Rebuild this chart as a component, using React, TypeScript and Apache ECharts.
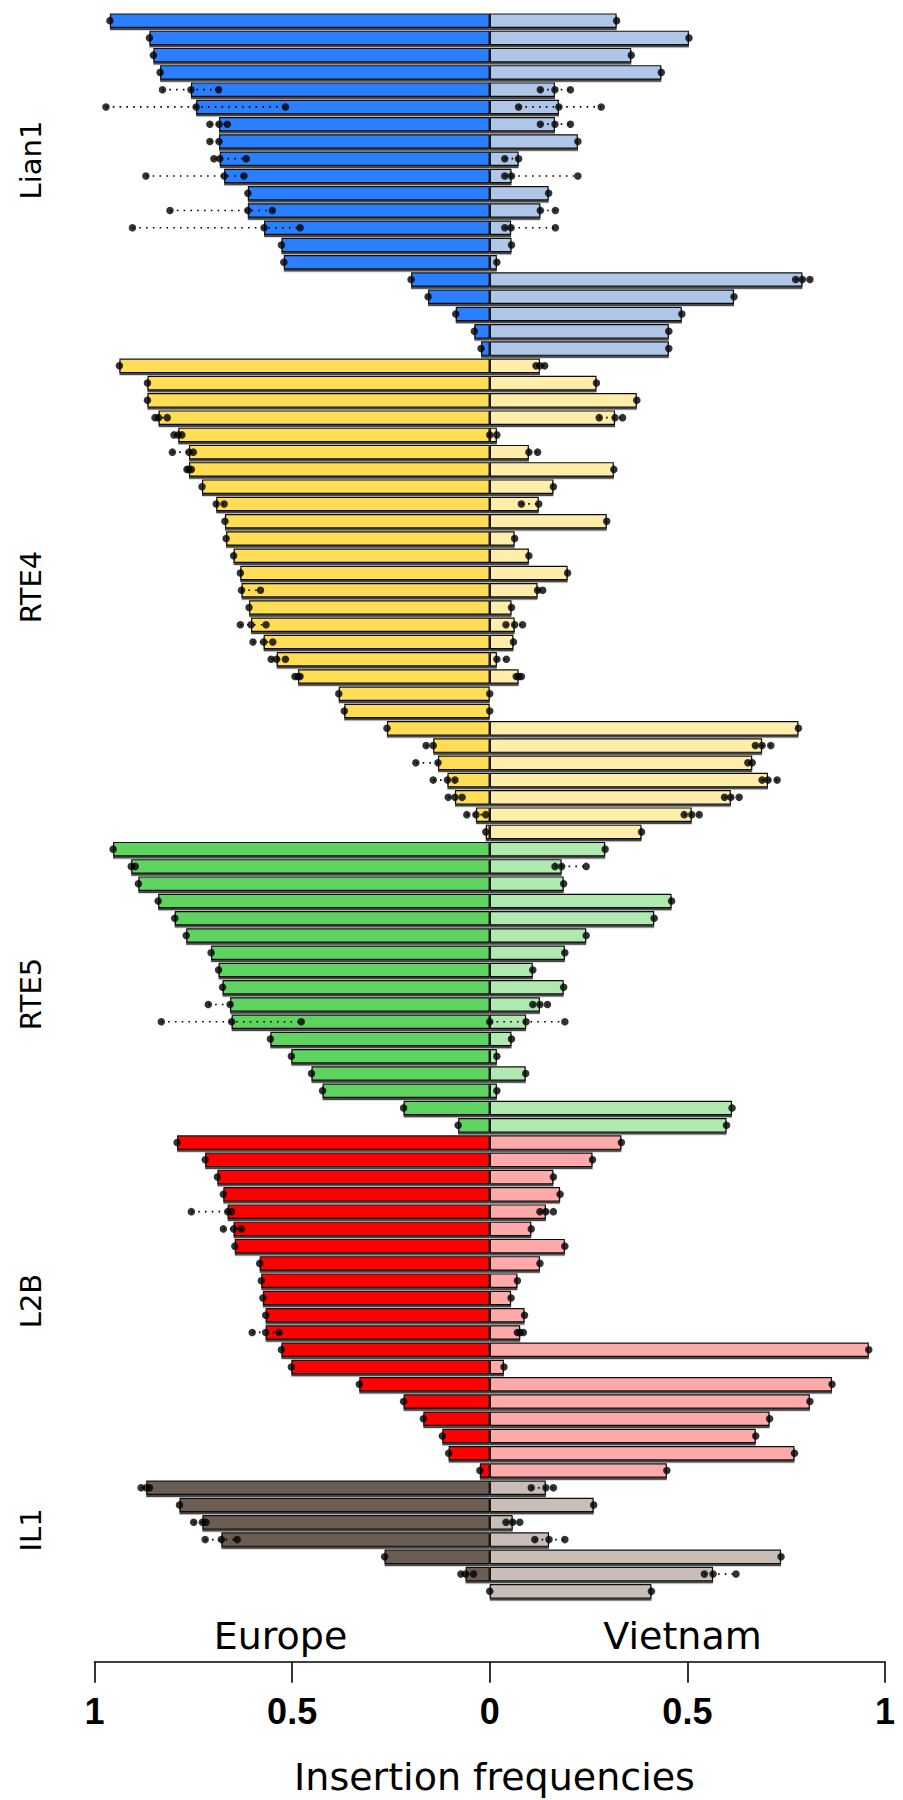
import React, { useEffect, useRef } from "react";
import * as echarts from "echarts";

// ---------------- DATA ----------------
const groupNames = ["Lian1", "RTE4", "RTE5", "L2B", "IL1"];
const europeColors = ["#2a7fff", "#ffdd55", "#5fd35f", "#ff0000", "#6c5d53"];
const vietnamColors = ["#afc6e9", "#ffeeaa", "#afe9af", "#ffaaaa", "#c8beb7"];
const tickValues = [-1, -0.5, 0, 0.5, 1];
const regionLabels = ["Europe", "Vietnam"];
const axisTitle = "Insertion frequencies";

const lian1Europe = [0.961, 0.861, 0.851, 0.834, 0.756, 0.743, 0.685, 0.685, 0.683, 0.672, 0.612, 0.612, 0.571, 0.527, 0.521, 0.199, 0.156, 0.086, 0.039, 0.022];
const lian1Vietnam = [0.321, 0.504, 0.358, 0.434, 0.165, 0.175, 0.165, 0.223, 0.073, 0.055, 0.149, 0.128, 0.054, 0.055, 0.018, 0.791, 0.618, 0.486, 0.453, 0.453];
const lian1EuropeReps: Record<number, number[]> = { 4: [0.828, 0.686], 5: [0.971, 0.517], 6: [0.708, 0.664], 7: [0.708], 8: [0.698, 0.616], 9: [0.87, 0.622], 11: [0.809, 0.55], 12: [0.904, 0.48] };
const lian1VietnamReps: Record<number, number[]> = { 4: [0.128, 0.204], 5: [0.073, 0.282], 6: [0.128, 0.204], 8: [0.038], 9: [0.038, 0.223], 11: [0.166], 12: [0.038, 0.166], 15: [0.774, 0.81] };

const rte4Europe = [0.937, 0.866, 0.866, 0.838, 0.788, 0.761, 0.761, 0.728, 0.692, 0.67, 0.667, 0.648, 0.631, 0.628, 0.609, 0.604, 0.572, 0.539, 0.485, 0.382, 0.368, 0.26, 0.143, 0.131, 0.107, 0.088, 0.035, 0.01];
const rte4Vietnam = [0.127, 0.27, 0.372, 0.317, 0.018, 0.099, 0.314, 0.161, 0.124, 0.296, 0.063, 0.099, 0.197, 0.121, 0.055, 0.063, 0.06, 0.018, 0.073, 0.0, 0.0, 0.781, 0.689, 0.664, 0.704, 0.61, 0.511, 0.384];
const rte4EuropeReps: Record<number, number[]> = { 3: [0.847, 0.816], 4: [0.799, 0.779], 5: [0.803, 0.75], 6: [0.766, 0.755], 8: [0.672], 13: [0.58], 15: [0.631, 0.566], 16: [0.599, 0.549], 17: [0.553, 0.517], 18: [0.493, 0.48], 22: [0.161], 23: [0.187], 24: [0.143, 0.088], 25: [0.105, 0.07], 26: [0.058, 0.01] };
const rte4VietnamReps: Record<number, number[]> = { 0: [0.117, 0.139], 3: [0.277, 0.336], 4: [0.0], 5: [0.121], 8: [0.08], 13: [0.134], 15: [0.041, 0.083], 17: [0.042], 18: [0.067, 0.08], 22: [0.672, 0.711], 23: [0.653], 24: [0.689, 0.727], 25: [0.594, 0.631], 26: [0.492, 0.53] };

const rte5Europe = [0.953, 0.907, 0.889, 0.839, 0.797, 0.768, 0.705, 0.686, 0.676, 0.657, 0.653, 0.555, 0.502, 0.451, 0.423, 0.218, 0.08];
const rte5Vietnam = [0.292, 0.182, 0.187, 0.46, 0.416, 0.244, 0.19, 0.109, 0.187, 0.127, 0.092, 0.055, 0.018, 0.091, 0.018, 0.613, 0.599];
const rte5EuropeReps: Record<number, number[]> = { 1: [0.897], 9: [0.712], 10: [0.831, 0.477] };
const rte5VietnamReps: Record<number, number[]> = { 1: [0.165, 0.244], 9: [0.109, 0.146], 10: [0.0, 0.19] };

const l2bEurope = [0.791, 0.72, 0.689, 0.674, 0.663, 0.648, 0.645, 0.582, 0.578, 0.574, 0.567, 0.567, 0.527, 0.502, 0.33, 0.218, 0.168, 0.12, 0.104, 0.025];
const l2bVietnam = [0.333, 0.26, 0.161, 0.178, 0.142, 0.105, 0.19, 0.127, 0.07, 0.054, 0.088, 0.077, 0.959, 0.036, 0.866, 0.81, 0.708, 0.673, 0.771, 0.448];
const l2bEuropeReps: Record<number, number[]> = { 4: [0.755, 0.653], 5: [0.674, 0.628], 11: [0.601, 0.533] };
const l2bVietnamReps: Record<number, number[]> = { 4: [0.127, 0.161], 11: [0.07, 0.085] };

const il1Europe = [0.869, 0.785, 0.727, 0.679, 0.266, 0.061, 0.0];
const il1Vietnam = [0.142, 0.263, 0.058, 0.15, 0.737, 0.565, 0.409];
const il1EuropeReps: Record<number, number[]> = { 0: [0.882, 0.861], 2: [0.749, 0.718], 3: [0.72, 0.639], 5: [0.073, 0.041] };
const il1VietnamReps: Record<number, number[]> = { 0: [0.105, 0.161], 2: [0.041, 0.076], 3: [0.114, 0.19], 5: [0.543, 0.623] };

const europeGroups = [lian1Europe, rte4Europe, rte5Europe, l2bEurope, il1Europe];
const vietnamGroups = [lian1Vietnam, rte4Vietnam, rte5Vietnam, l2bVietnam, il1Vietnam];
const europeRepGroups = [lian1EuropeReps, rte4EuropeReps, rte5EuropeReps, l2bEuropeReps, il1EuropeReps];
const vietnamRepGroups = [lian1VietnamReps, rte4VietnamReps, rte5VietnamReps, l2bVietnamReps, il1VietnamReps];

// ---------------- LAYOUT ----------------
const W = 903;
const H = 1800;
const groupLabelY = [160, 587, 994, 1301, 1530];
const groupLabelX = 31;

function buildOption() {
  const categories: string[] = [];
  const eBars: any[] = [];
  const vBars: any[] = [];
  const ranges: number[][] = [];
  const dots: number[][] = [];
  let idx = 0;
  groupNames.forEach((g, gi) => {
    europeGroups[gi].forEach((ev, i) => {
      const vv = vietnamGroups[gi][i];
      categories.push(`${g} ${i + 1}`);
      eBars.push({ value: -ev, itemStyle: { color: europeColors[gi] } });
      vBars.push({ value: vv, itemStyle: { color: vietnamColors[gi] } });
      const er = europeRepGroups[gi][i] || [];
      const eAll = [ev, ...er];
      eAll.forEach((x) => dots.push([-x, idx]));
      if (er.length) ranges.push([-Math.max(...eAll), -Math.min(...eAll), idx]);
      const vr = vietnamRepGroups[gi][i] || [];
      const vAll = [vv, ...vr];
      vAll.forEach((x) => dots.push([x, idx]));
      if (vr.length) ranges.push([Math.min(...vAll), Math.max(...vAll), idx]);
      idx++;
    });
  });

  const barStyle = {
    borderColor: "#111",
    borderWidth: 1.2,
    shadowColor: "rgba(0,0,0,0.72)",
    shadowOffsetY: 2.2,
    shadowBlur: 0,
  };

  const textBase = { fill: "#000", align: "center", verticalAlign: "middle", textAlign: "center", textVerticalAlign: "middle" };

  const graphics: any[] = groupNames.map((g, gi) => ({
    type: "text",
    x: groupLabelX,
    y: groupLabelY[gi],
    rotation: Math.PI / 2,
    style: { ...textBase, text: g, fontSize: 29, fontFamily: "DejaVu Sans" },
  }));
  graphics.push(
    { type: "text", x: 280.5, y: 1636, style: { ...textBase, text: regionLabels[0], fontSize: 38, fontFamily: "DejaVu Sans" } },
    { type: "text", x: 682.5, y: 1636, style: { ...textBase, text: regionLabels[1], fontSize: 38, fontFamily: "DejaVu Sans" } },
    { type: "text", x: 494.5, y: 1777, style: { ...textBase, text: axisTitle, fontSize: 38, fontFamily: "DejaVu Sans" } }
  );

  return {
    animation: false,
    backgroundColor: "#ffffff",
    grid: { left: 94.5, width: 790.5, top: 12, height: 1588, containLabel: false },
    xAxis: {
      type: "value",
      min: tickValues[0],
      max: tickValues[tickValues.length - 1],
      interval: 0.5,
      position: "bottom",
      offset: 61.7,
      axisLine: { show: true, lineStyle: { color: "#000", width: 1.6 } },
      axisTick: { show: true, length: 21, lineStyle: { color: "#000", width: 1.6 } },
      axisLabel: {
        formatter: (v: number) => String(Math.abs(v)),
        fontSize: 36,
        fontWeight: "bold",
        fontFamily: "Liberation Sans",
        color: "#000",
        margin: 32,
      },
      splitLine: { show: false },
    },
    yAxis: { type: "category", data: categories, inverse: true, show: false },
    graphic: graphics,
    series: [
      { type: "bar", data: eBars, barWidth: 14.5, barGap: "-100%", itemStyle: barStyle, silent: true, z: 2 },
      { type: "bar", data: vBars, barWidth: 14.5, barGap: "-100%", itemStyle: barStyle, silent: true, z: 2 },
      {
        type: "custom",
        data: ranges,
        encode: { x: [0, 1], y: 2 },
        z: 3,
        silent: true,
        renderItem: (params: any, api: any) => {
          const p1 = api.coord([api.value(0), api.value(2)]);
          const p2 = api.coord([api.value(1), api.value(2)]);
          return {
            type: "line",
            shape: { x1: p1[0], y1: p1[1], x2: p2[0], y2: p2[1] },
            style: { stroke: "#000", lineWidth: 1.7, lineDash: [1.6, 5.2] },
          };
        },
      },
      {
        type: "scatter",
        data: dots,
        symbol: "circle",
        symbolSize: 7.5,
        itemStyle: { color: "#000" },
        z: 4,
        silent: true,
      },
    ],
  };
}

export default function App() {
  const ref = useRef<HTMLDivElement>(null);
  useEffect(() => {
    if (!ref.current) return;
    const chart = echarts.init(ref.current, undefined, { renderer: "svg" });
    chart.setOption(buildOption() as any);
    return () => chart.dispose();
  }, []);
  return (
    <div
      ref={ref}
      style={{ position: "absolute", left: 0, top: 0, width: W, height: H, background: "#fff" }}
    />
  );
}
